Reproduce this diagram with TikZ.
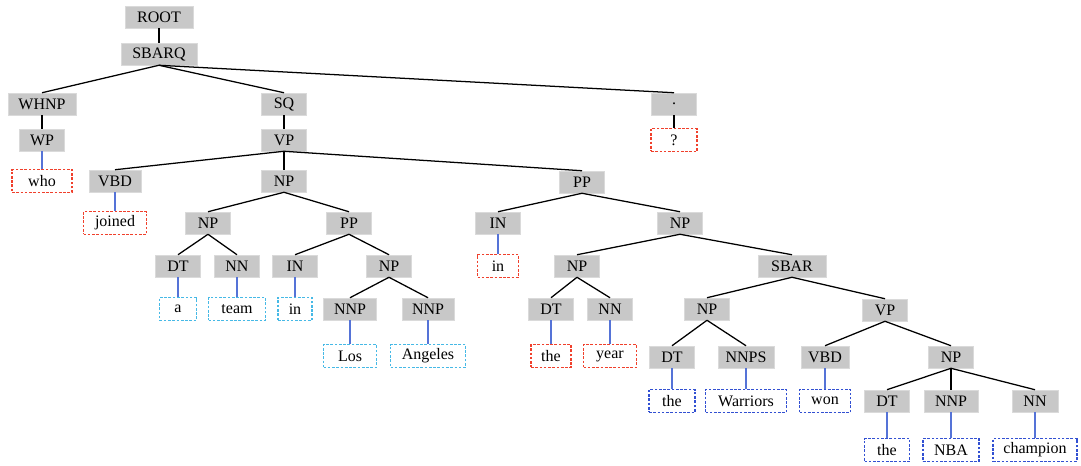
\documentclass[tikz,border=0pt]{standalone}
\usepackage{fontspec}
\setmainfont{Liberation Serif}
\definecolor{tagfill}{RGB}{200,200,200}
\definecolor{tagline}{RGB}{218,218,218}
\definecolor{wred}{RGB}{240,64,44}
\definecolor{wcyan}{RGB}{70,185,230}
\definecolor{wblue}{RGB}{50,80,210}
\definecolor{lblue}{RGB}{85,115,215}
\tikzset{
  tag/.style={fill=tagfill, draw=tagline, line width=0.4pt, inner sep=0pt,
    minimum height=16.5pt, minimum width=33.75pt, font=\fontsize{12}{14}\selectfont},
  word/.style={fill=white, draw=#1, dash pattern=on 2pt off 1.2pt, line width=0.8pt,
    inner sep=0pt, minimum height=17.2pt, font=\fontsize{12}{14}\selectfont},
  wd/.style={minimum width=#1*0.75pt},
  branch/.style={draw=black, line width=0.95pt},
  leaf/.style={draw=lblue, line width=0.9pt}
}
\begin{document}
\begin{tikzpicture}[x=0.75pt,y=-0.75pt]
\useasboundingbox (0,0) rectangle (1081,465);
% tags
\node[tag,wd=68] (root) at (159,17) {ROOT};
\node[tag,wd=76] (sbarq) at (159,54) {SBARQ};
\node[tag,wd=68] (whnp) at (42,104) {WHNP};
\node[tag] (sq) at (284,104) {SQ};
\node[tag] (dot) at (674,104) {.};
\node[tag] (wp) at (42,140) {WP};
\node[tag] (vp) at (284,140) {VP};
\node[tag,wd=52] (vbd) at (115,181) {VBD};
\node[tag] (np1) at (284,181) {NP};
\node[tag] (pp1) at (582,182) {PP};
\node[tag] (np2) at (208,223) {NP};
\node[tag] (pp2) at (349,223) {PP};
\node[tag] (in2) at (498,223) {IN};
\node[tag] (np3) at (680,223) {NP};
\node[tag] (dt1) at (178,266) {DT};
\node[tag] (nn1) at (237,266) {NN};
\node[tag] (in1) at (295,266) {IN};
\node[tag] (np4) at (389,266) {NP};
\node[tag] (np5) at (577,266) {NP};
\node[tag,wd=68] (sbar) at (792,266) {SBAR};
\node[tag,wd=53] (nnp1) at (350,309) {NNP};
\node[tag,wd=52] (nnp2) at (428,309) {NNP};
\node[tag] (dt2) at (551,309) {DT};
\node[tag] (nn2) at (610,309) {NN};
\node[tag] (np6) at (707,309) {NP};
\node[tag] (vp2) at (885,310) {VP};
\node[tag] (dt3) at (672,357) {DT};
\node[tag,wd=56] (nnps) at (746,357) {NNPS};
\node[tag,wd=48] (vbd2) at (825,357) {VBD};
\node[tag] (np7) at (951,357) {NP};
\node[tag] (dt4) at (887,401) {DT};
\node[tag,wd=54] (nnp3) at (951,401) {NNP};
\node[tag,wd=46] (nn3) at (1035,401) {NN};
% words
\node[word=wred,wd=60] (who) at (42,181) {who};
\node[word=wred,wd=46] (q) at (674,140) {?};
\node[word=wred,wd=63] (joined) at (115,223) {joined};
\node[word=wred,wd=41] (inr) at (498,266) {in};
\node[word=wcyan,wd=37] (a) at (178,309) {a};
\node[word=wcyan,wd=57] (team) at (237,309) {team};
\node[word=wcyan,wd=34] (inc) at (295,309) {in};
\node[word=wcyan,wd=53] (los) at (350,356) {Los};
\node[word=wcyan,wd=75] (angeles) at (428,356) {Angeles};
\node[word=wred,wd=40] (the1) at (551,356) {the};
\node[word=wred,wd=53] (year) at (610,356) {year};
\node[word=wblue,wd=46] (the2) at (672,401) {the};
\node[word=wblue,wd=81] (warriors) at (746,401) {Warriors};
\node[word=wblue,wd=51] (won) at (825,401) {won};
\node[word=wblue,wd=45] (the3) at (887,450) {the};
\node[word=wblue,wd=56] (nba) at (951,450) {NBA};
\node[word=wblue,wd=84] (champion) at (1035,450) {champion};
% branches
\foreach \p/\c in {root/sbarq, sbarq/whnp, sbarq/sq, sbarq/dot, whnp/wp, sq/vp,
  vp/vbd, vp/np1, vp/pp1, np1/np2, np1/pp2, np2/dt1, np2/nn1, pp2/in1, pp2/np4,
  np4/nnp1, np4/nnp2, pp1/in2, pp1/np3, np3/np5, np3/sbar, np5/dt2, np5/nn2,
  sbar/np6, sbar/vp2, np6/dt3, np6/nnps, vp2/vbd2, vp2/np7, np7/dt4, np7/nnp3,
  np7/nn3, dot/q}
  \draw[branch] (\p.south) -- (\c.north);
\foreach \p/\c in {wp/who, vbd/joined, in2/inr, dt1/a, nn1/team, in1/inc,
  nnp1/los, nnp2/angeles, dt2/the1, nn2/year, dt3/the2, nnps/warriors,
  vbd2/won, dt4/the3, nnp3/nba, nn3/champion}
  \draw[leaf] (\p.south) -- (\c.north);
\end{tikzpicture}
\end{document}
